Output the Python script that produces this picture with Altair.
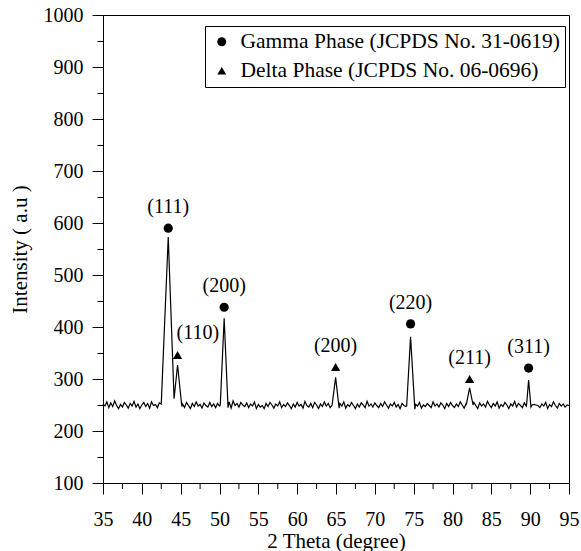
import altair as alt
import pandas as pd

FONT = "Liberation Serif"

# baseline intensity sampled every 0.25 degree from 35 to 95
base_start = 35.0
base_step = 0.25
baseline = [
    252, 248, 256, 245, 254, 247, 258, 249, 243, 251, 246, 255, 250, 244, 253, 248, 257, 246, 252, 243,
    250, 255, 247, 253, 244, 256, 249, 251, 245, 254, 248, 257, 250, 246, 255, 249, 252, 247, 254, 250,
    246, 252, 245, 255, 249, 243, 253, 247, 256, 248, 251, 244, 254, 249, 246, 255, 247, 252, 245, 253,
    248, 251, 246, 250, 247, 256, 244, 258, 249, 253, 246, 255, 250, 247, 254, 245, 252, 248, 256, 243,
    251, 246, 249, 243, 253, 247, 255, 250, 244, 252, 248, 256, 245, 251, 247, 254, 249, 243, 252, 246,
    255, 248, 251, 244, 257, 249, 246, 253, 245, 255, 250, 243, 252, 247, 256, 248, 253, 245, 251, 247,
    250, 245, 253, 248, 256, 244, 251, 247, 255, 249, 243, 252, 246, 254, 250, 245, 257, 248, 252, 246,
    254, 249, 245, 253, 247, 256, 250, 244, 252, 248, 255, 246, 251, 243, 253, 249, 247, 255, 248, 252,
    246, 251, 248, 255, 244, 250, 247, 253, 249, 245, 256, 248, 252, 246, 254, 250, 243, 253, 247, 255,
    249, 245, 252, 247, 256, 250, 244, 253, 248, 251, 246, 255, 249, 243, 254, 248, 252, 246, 257, 250,
    245, 253, 248, 256, 244, 251, 247, 255, 250, 243, 252, 248, 257, 246, 253, 249, 245, 254, 248, 251,
    251, 250, 251, 250, 249, 245, 252, 248, 255, 243, 251, 247, 256, 249, 244, 253, 248, 252, 246, 250,
    249,
]

# diffraction peak profiles (two theta, intensity)
peak_111_110_x = [42.5, 43.4, 44.15, 44.6, 45.15]
peak_111_110_y = [252, 573, 262, 327, 247]
peak_200g_x = [50.1, 50.6, 51.1]
peak_200g_y = [250, 417, 245]
peak_200d_x = [64.5, 64.95, 65.4]
peak_200d_y = [250, 303, 244]
peak_220_x = [74.1, 74.6, 75.15]
peak_220_y = [248, 381, 242]
peak_211_x = [81.8, 82.2, 82.65]
peak_211_y = [252, 283, 250]
peak_311_x = [89.55, 89.8, 90.1]
peak_311_y = [252, 298, 246]

# phase markers
gamma_x = [43.4, 50.6, 74.6, 89.8]
gamma_y = [590, 438, 406, 321]
gamma_hkl = ["(111)", "(200)", "(220)", "(311)"]
delta_x = [44.6, 64.95, 82.2]
delta_y = [346, 323, 300]
delta_hkl = ["(110)", "(200)", "(211)"]

GAMMA = "Gamma Phase (JCPDS No. 31-0619)"
DELTA = "Delta Phase (JCPDS No. 06-0696)"

x_major = [35, 40, 45, 50, 55, 60, 65, 70, 75, 80, 85, 90, 95]
x_minor = [37.5, 42.5, 47.5, 52.5, 57.5, 62.5, 67.5, 72.5, 77.5, 82.5, 87.5, 92.5]
y_ticks = [100, 150, 200, 250, 300, 350, 400, 450, 500, 550, 600, 650, 700,
           750, 800, 850, 900, 950, 1000]

# ---- build line table ----
peaks = [
    (peak_111_110_x, peak_111_110_y),
    (peak_200g_x, peak_200g_y),
    (peak_200d_x, peak_200d_y),
    (peak_220_x, peak_220_y),
    (peak_211_x, peak_211_y),
    (peak_311_x, peak_311_y),
]
pts = []
for i, v in enumerate(baseline):
    x = base_start + i * base_step
    if any(px[0] <= x <= px[-1] for px, _ in peaks):
        continue
    pts.append((x, v))
for px, py in peaks:
    pts.extend(zip(px, py))
pts.sort()
line_df = pd.DataFrame(pts, columns=["theta", "intensity"])

mark_df = pd.DataFrame(
    {"theta": gamma_x + delta_x,
     "intensity": gamma_y + delta_y,
     "hkl": gamma_hkl + delta_hkl,
     "phase": [GAMMA] * len(gamma_x) + [DELTA] * len(delta_x)}
)
minor_df = pd.DataFrame({"theta": x_minor})

W, H = 466, 468

xscale = alt.Scale(domain=[35, 95], nice=False, zero=False)
yscale = alt.Scale(domain=[100, 1000], nice=False, zero=False)

common_axis = dict(
    grid=False, labelOverlap=False, labelFlush=False,
    labelFont=FONT, titleFont=FONT, labelFontSize=20, titleFontSize=21,
    titleFontWeight="normal", labelColor="black", titleColor="black",
    domainColor="black", tickColor="black", domainWidth=1, tickWidth=1,
)

x_axis = alt.Axis(
    title="2 Theta (degree)", values=x_major, tickSize=11,
    labelPadding=15, titleBaseline="alphabetic", titleY=64, **common_axis,
)
y_axis = alt.Axis(
    title="Intensity ( a.u )", values=y_ticks, format="d",
    labelExpr="datum.value % 100 === 0 ? datum.label : ''",
    tickSize={"condition": {"test": "datum.value % 100 === 0", "value": 11}, "value": 6},
    labelPadding=9, titlePadding=13, **common_axis,
)

X = alt.X("theta:Q", scale=xscale, axis=x_axis)
Y = alt.Y("intensity:Q", scale=yscale, axis=y_axis)

line = alt.Chart(line_df).mark_line(color="black", strokeWidth=1.2).encode(
    x=X, y=Y, order="theta:Q",
)

minor_ticks = alt.Chart(minor_df).mark_rule(color="black", strokeWidth=1, clip=False).encode(
    x=X,
    y=alt.value(H),
    y2=alt.value(H + 6),
)

points = alt.Chart(mark_df).mark_point(filled=True, color="black", opacity=1, size=85).encode(
    x=X, y=Y,
    shape=alt.Shape(
        "phase:N",
        scale=alt.Scale(domain=[GAMMA, DELTA], range=["circle", "triangle-up"]),
        legend=alt.Legend(
            title=None, orient="none", legendX=102, legendY=11,
            strokeColor="black", fillColor="white", padding=5,
            symbolOffset=1, labelOffset=8, rowPadding=6,
            labelFont=FONT, labelFontSize=21.5, labelColor="black", labelLimit=0,
            symbolSize=80, symbolFillColor="black", symbolStrokeColor="black",
            symbolStrokeWidth=0,
        ),
    ),
)

labels_main = alt.Chart(mark_df[mark_df["hkl"].ne("(110)") | mark_df["phase"].ne(DELTA)]).mark_text(
    font=FONT, fontSize=20, color="black", dy=-21, baseline="middle", align="center"
).encode(x=X, y=Y, text="hkl:N")

labels_110 = alt.Chart(mark_df[mark_df["hkl"].eq("(110)") & mark_df["phase"].eq(DELTA)]).mark_text(
    font=FONT, fontSize=20, color="black", dy=-22, dx=-1, baseline="middle", align="left"
).encode(x=X, y=Y, text="hkl:N")

chart = alt.layer(line, minor_ticks, points, labels_main, labels_110).properties(
    width=W, height=H,
    background="white",
    autosize=alt.AutoSizeParams(type="none"),
    padding={"left": 103, "top": 15, "right": 12, "bottom": 68},
).configure_view(
    stroke="black", strokeWidth=1
).configure_axis(
    labelOverlap=False
)

chart.save("out.html", embed_options={"renderer": "svg", "actions": False})
